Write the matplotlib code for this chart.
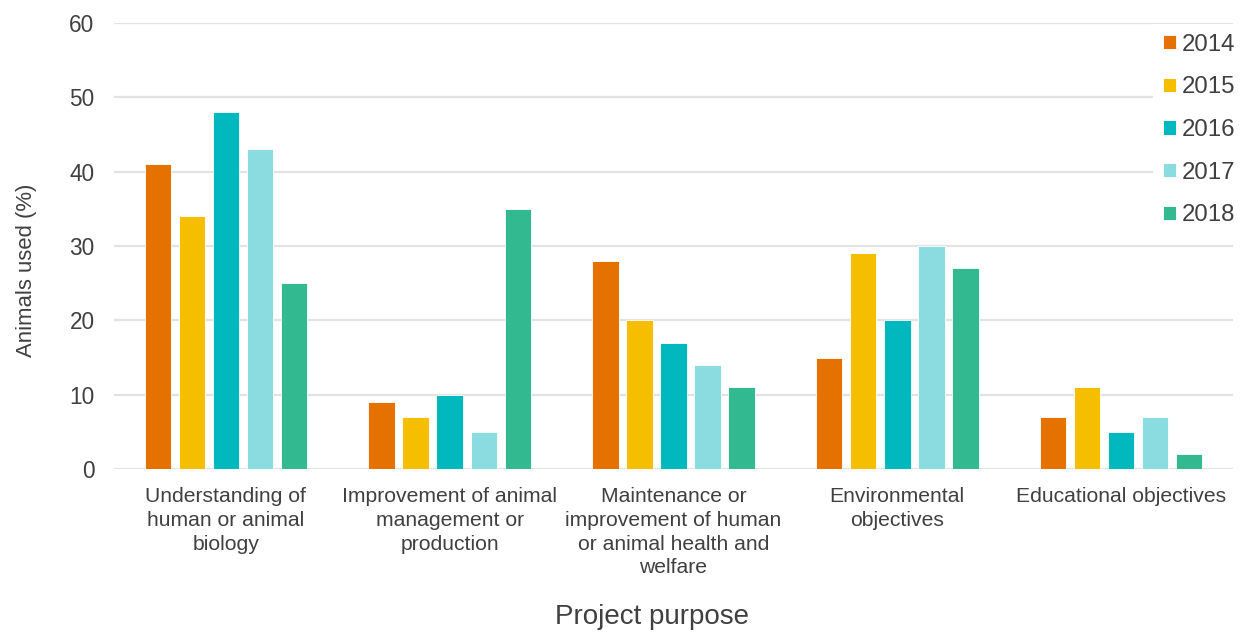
import numpy as np
import matplotlib.pyplot as plt

plt.rcParams['font.family'] = ['Liberation Sans', 'DejaVu Sans']

# data
categories = ['Understanding of\nhuman or animal\nbiology',
              'Improvement of animal\nmanagement or\nproduction',
              'Maintenance or\nimprovement of human\nor animal health and\nwelfare',
              'Environmental\nobjectives',
              'Educational objectives']
years = ['2014', '2015', '2016', '2017', '2018']
v2014 = [41, 9, 28, 15, 7]
v2015 = [34, 7, 20, 29, 11]
v2016 = [48, 10, 17, 20, 5]
v2017 = [43, 5, 14, 30, 7]
v2018 = [25, 35, 11, 27, 2]
series = [v2014, v2015, v2016, v2017, v2018]
colors = ['#E57200', '#F5BE00', '#00B8BE', '#8ADCE0', '#33B98F']

txt = '#404040'

fig = plt.figure(figsize=(12.46, 6.32), dpi=100)
ax = fig.add_axes([114 / 1246, 1 - 469 / 632, (1233 - 114) / 1246, (469 - 23) / 632])

x = np.arange(len(categories))
step = 0.152
w = 0.118
for i, (vals, c, yr) in enumerate(zip(series, colors, years)):
    ax.bar(x + (i - 2) * step, vals, w, color=c, label=yr,
           edgecolor='white', linewidth=0.6, zorder=3)

ax.set_xlim(-0.5, len(categories) - 0.5)
ax.set_ylim(0, 60)
ax.set_yticks(range(0, 61, 10))
ax.grid(axis='y', color='#E3E3E3', linewidth=1.6, zorder=0)
for s in ax.spines.values():
    s.set_visible(False)
ax.tick_params(axis='y', length=0, pad=14, labelsize=16.3, labelcolor=txt)
ax.tick_params(axis='x', length=0, pad=13, labelsize=15.2, labelcolor=txt)
ax.set_xticks(x)
ax.set_xticklabels(categories, linespacing=1.32, va='top')
ax.set_ylabel('Animals used (%)', fontsize=15.9, color=txt, va='center')
ax.yaxis.set_label_coords(-0.078, 0.446)
ax.set_xlabel('Project purpose', fontsize=20, color=txt, va='center')
ax.xaxis.set_label_coords(0.481, -0.332)

leg = ax.legend(loc='upper left', bbox_to_anchor=(1153 / 1246, 1 - 24 / 632),
                bbox_transform=fig.transFigure, frameon=True, fancybox=False,
                edgecolor='none', facecolor='white', framealpha=1,
                fontsize=17.3, handlelength=0.55, handleheight=0.55,
                handletextpad=0.25, labelspacing=0.86, borderpad=0.4,
                borderaxespad=0)
for t in leg.get_texts():
    t.set_color(txt)
leg.set_zorder(5)

fig.savefig('out.png', dpi=100)
